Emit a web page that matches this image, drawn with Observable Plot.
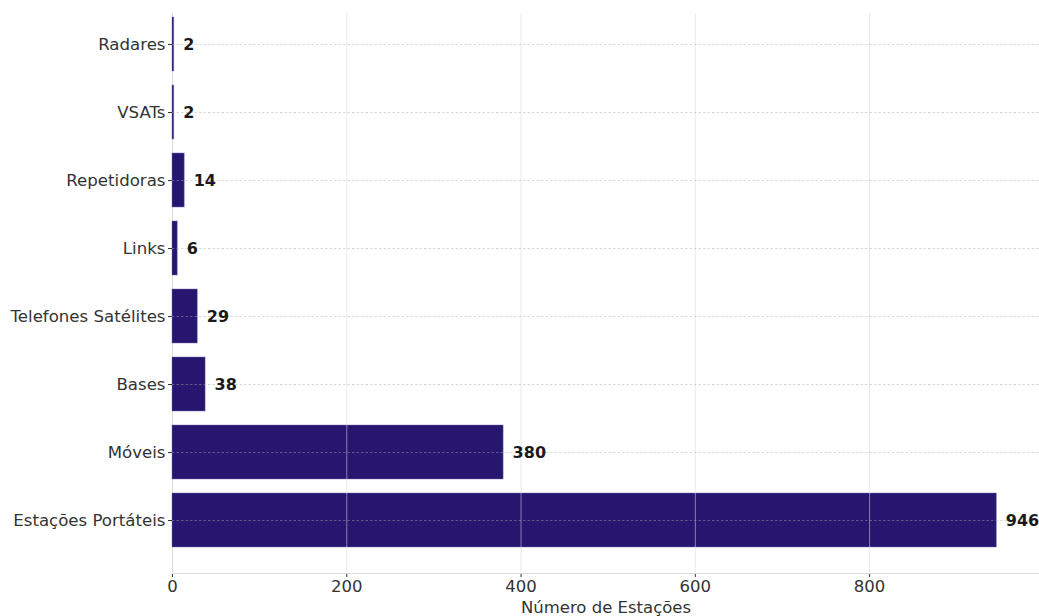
<!DOCTYPE html>
<html>
<head>
<meta charset="utf-8">
<script src="https://cdn.jsdelivr.net/npm/d3@7"></script>
<script src="https://cdn.jsdelivr.net/npm/@observablehq/plot@0.6"></script>
<style>
  html, body { margin: 0; padding: 0; background: #fff; }
  #chart svg { display: block; }
</style>
</head>
<body>
<div id="chart"></div>
<script>
// Station types, top to bottom
const categories = ["Radares", "VSATs", "Repetidoras", "Links", "Telefones Satélites", "Bases", "Móveis", "Estações Portáteis"];
// Number of stations per type
const counts = [2, 2, 14, 6, 29, 38, 380, 946];
// X axis ticks
const xTicks = [0, 200, 400, 600, 800];
const xLabel = "Número de Estações";

const data = categories.map((c, i) => ({category: c, count: counts[i]}));

const W = 1039, H = 616;
const mLeft = 172, mRight = 0, mTop = 13, mBottom = 43;
const font = "DejaVu Sans, Verdana, sans-serif";

const chart = Plot.plot({
  width: W,
  height: H,
  marginLeft: mLeft,
  marginRight: mRight,
  marginTop: mTop,
  marginBottom: mBottom,
  style: {fontFamily: font, background: "#fff", overflow: "visible"},
  x: {domain: [0, 995], ticks: xTicks},
  y: {domain: categories, range: [10, 554], paddingInner: 0.2, paddingOuter: 0.1},
  marks: [
    // left spine
    Plot.ruleX([0], {stroke: "#dcdcdc", strokeWidth: 1}),
    Plot.barX(data, {
      x: "count", y: "category",
      fill: "#26166f", stroke: "#7a70b8", strokeOpacity: 0.6, strokeWidth: 0.8
    }),
    // vertical grid over the bars
    Plot.ruleX(xTicks.filter(t => t > 0), {stroke: "#d9d9d9", strokeOpacity: 0.55, strokeWidth: 1}),
    // dashed horizontal grid at each category
    Plot.ruleY(categories, {y: d => d, stroke: "#a8a8a8", strokeOpacity: 0.45, strokeWidth: 1, strokeDasharray: "2.5,2"}),
    Plot.axisX({
      ticks: xTicks, tickSize: 4, tickPadding: 3, fontSize: 16.5,
      color: "#333", label: null, tickFormat: d => String(d)
    }),
    Plot.axisY({
      tickSize: 4, tickPadding: 3, fontSize: 16.6, color: "#333", label: null
    }),
    // value labels
    Plot.text(data, {
      x: "count", y: "category", text: d => String(d.count),
      dx: 9, textAnchor: "start", fontSize: 16, fontWeight: "bold", fill: "#1a1a1a"
    }),
    Plot.text([xLabel], {
      text: d => d, frameAnchor: "bottom", dy: 39, lineAnchor: "bottom",
      fontSize: 16.5, fill: "#333"
    })
  ]
});

// bottom spine
d3.select(chart).append("line")
  .attr("x1", mLeft).attr("x2", W - mRight)
  .attr("y1", H - mBottom + 0.5).attr("y2", H - mBottom + 0.5)
  .attr("stroke", "#dcdcdc").attr("stroke-width", 1);

document.getElementById("chart").appendChild(chart);
</script>
</body>
</html>
